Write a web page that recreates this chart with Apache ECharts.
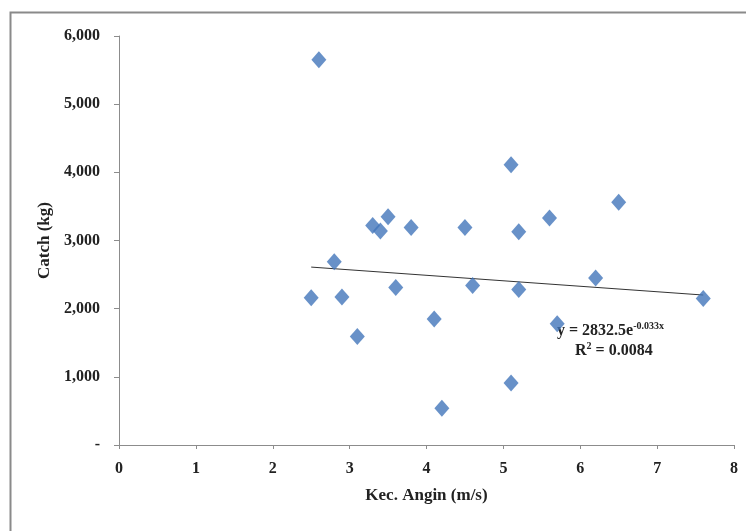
<!DOCTYPE html>
<html>
<head>
<meta charset="utf-8">
<script src="https://cdn.jsdelivr.net/npm/echarts@6/dist/echarts.min.js"></script>
<style>
  html, body { margin: 0; padding: 0; background: #fff; }
  #main { width: 746px; height: 531px; }
</style>
</head>
<body>
<div id="main"></div>
<script>
  // wind speed (m/s) vs catch (kg)
  var windSpeed = [2.5, 2.6, 2.8, 2.9, 3.1, 3.3, 3.4, 3.5, 3.6, 3.8, 4.1, 4.2,
                   4.5, 4.6, 5.1, 5.1, 5.2, 5.2, 5.6, 5.7, 6.2, 6.5, 7.6];
  var catchKg = [2160, 5650, 2690, 2170, 1590, 3220, 3140, 3350, 2310, 3190, 1850, 540,
                 3190, 2340, 4110, 910, 3130, 2280, 3330, 1780, 2450, 3560, 2150];

  // trendline ends
  var trendX = [2.5, 7.6];
  var trendY = [2610, 2200];

  var fontSerif = '"Liberation Serif", "DejaVu Serif", serif';

  var points = windSpeed.map(function (x, i) { return [x, catchKg[i]]; });
  var trend = trendX.map(function (x, i) { return [x, trendY[i]]; });

  var chart = echarts.init(document.getElementById('main'), null, { renderer: 'canvas' });

  var option = {
    backgroundColor: '#fff',
    animation: false,
    grid: {
      left: 119,
      right: 12,
      top: 36,
      bottom: 86
    },
    xAxis: {
      type: 'value',
      min: 0,
      max: 8,
      interval: 1,
      name: 'Kec. Angin (m/s)',
      nameLocation: 'middle',
      nameGap: 42,
      nameTextStyle: { fontFamily: fontSerif, fontWeight: 'bold', fontSize: 17, color: '#222' },
      splitLine: { show: false },
      axisLine: { lineStyle: { color: '#8c8c8c', width: 1 } },
      axisTick: { show: true, length: 4, lineStyle: { color: '#8c8c8c' } },
      axisLabel: { fontFamily: fontSerif, fontWeight: 'bold', fontSize: 16, color: '#222', margin: 16 }
    },
    yAxis: {
      type: 'value',
      min: 0,
      max: 6000,
      interval: 1000,
      name: 'Catch (kg)',
      nameLocation: 'middle',
      nameGap: 64,
      nameTextStyle: { fontFamily: fontSerif, fontWeight: 'bold', fontSize: 17, color: '#222' },
      splitLine: { show: false },
      axisLine: { show: true, lineStyle: { color: '#8c8c8c', width: 1 } },
      axisTick: { show: true, length: 5, lineStyle: { color: '#8c8c8c' } },
      axisLabel: {
        fontFamily: fontSerif, fontWeight: 'bold', fontSize: 16, color: '#222', margin: 19,
        formatter: function (v) {
          if (v === 0) return '-';
          return v.toLocaleString('en-US');
        }
      }
    },
    series: [
      {
        type: 'scatter',
        data: points,
        symbol: 'diamond',
        symbolSize: [15, 17],
        itemStyle: { color: '#4276BA' },
        z: 3
      },
      {
        type: 'line',
        data: trend,
        symbol: 'none',
        lineStyle: { color: '#333', width: 1 },
        z: 2
      }
    ],
    graphic: [
      {
        type: 'rect',
        shape: { x: 10.5, y: 12.5, width: 800, height: 600 },
        style: { fill: null, stroke: '#8a8a8a', lineWidth: 2 },
        silent: true
      },
      {
        type: 'text',
        left: 557,
        top: 321,
        style: {
          text: '{a|y = 2832.5e}{s|-0.033x}',
          rich: {
            a: { fontFamily: fontSerif, fontWeight: 'bold', fontSize: 16, fill: '#222' },
            s: { fontFamily: fontSerif, fontWeight: 'bold', fontSize: 10, fill: '#222', padding: [0, 0, 9, 0] }
          }
        }
      },
      {
        type: 'text',
        left: 575,
        top: 341,
        style: {
          text: '{a|R}{s|2}{a| = 0.0084}',
          rich: {
            a: { fontFamily: fontSerif, fontWeight: 'bold', fontSize: 16, fill: '#222' },
            s: { fontFamily: fontSerif, fontWeight: 'bold', fontSize: 10, fill: '#222', padding: [0, 0, 9, 0] }
          }
        }
      }
    ]
  };

  chart.setOption(option);

  window.addEventListener('resize', function () {
    chart.resize();
  });
</script>
</body>
</html>
